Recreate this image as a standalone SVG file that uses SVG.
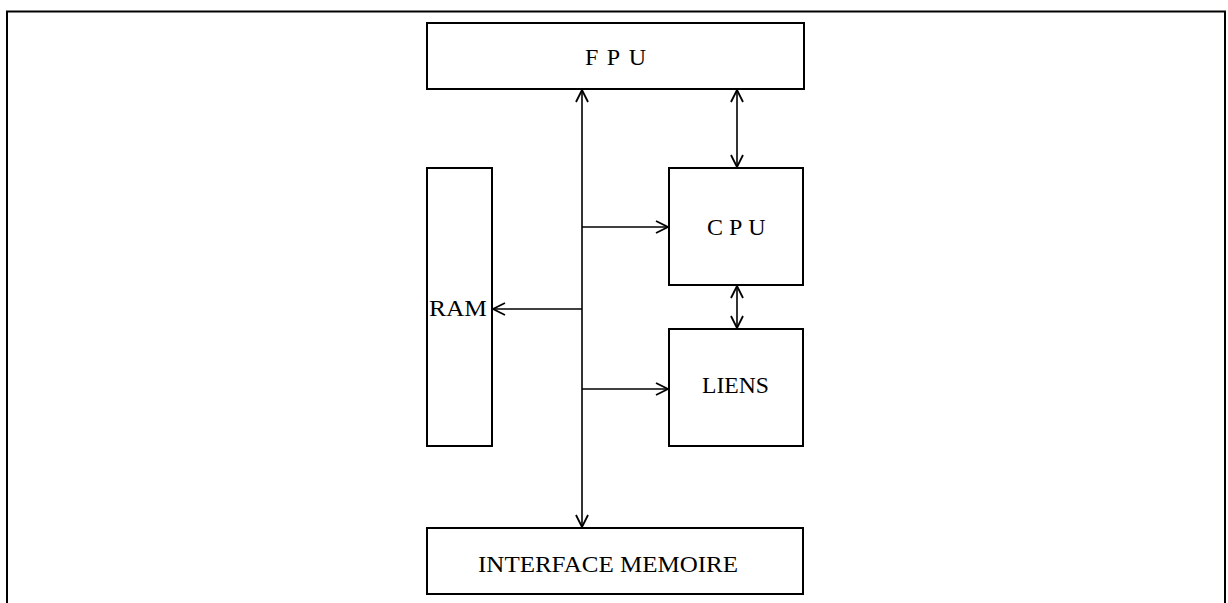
<svg xmlns="http://www.w3.org/2000/svg" width="1228" height="603" viewBox="0 0 1228 603">
<style>
.box{fill:#fff;stroke:#000;stroke-width:2}
.lbl{font-family:"Liberation Serif",serif;font-size:24px;fill:#000}
.ln{stroke:#000;stroke-width:1.6;fill:none}
</style>
<defs>
<marker id="ah" viewBox="0 0 14 14" refX="13" refY="7" markerWidth="14" markerHeight="14" markerUnits="userSpaceOnUse" orient="auto-start-reverse">
<path d="M1,1 L13,7 L1,13" fill="none" stroke="#000" stroke-width="1.8"/>
</marker>
</defs>
<rect width="1228" height="603" fill="#fff"/>
<path d="M7,603 V11.5 H1225 V603" fill="none" stroke="#000" stroke-width="2"/>
<g id="fpu"><rect class="box" x="427" y="23" width="377" height="66"/><text class="lbl" x="585" y="65" font-size="22" letter-spacing="8.5">FPU</text></g>
<g id="cpu"><rect class="box" x="669" y="168" width="134" height="117"/><text class="lbl" x="707" y="235" letter-spacing="6">CPU</text></g>
<g id="liens"><rect class="box" x="669" y="329" width="134" height="117"/><text class="lbl" x="702" y="393" textLength="67" lengthAdjust="spacingAndGlyphs">LIENS</text></g>
<g id="ram"><rect class="box" x="427" y="168" width="65" height="278"/><text class="lbl" x="429" y="316" textLength="58" lengthAdjust="spacingAndGlyphs">RAM</text></g>
<g id="interface"><rect class="box" x="427" y="528" width="376" height="66"/><text class="lbl" x="478" y="572" textLength="260" lengthAdjust="spacingAndGlyphs">INTERFACE MEMOIRE</text></g>
<g id="connectors">
<line class="ln" x1="582" y1="90" x2="582" y2="527" marker-start="url(#ah)" marker-end="url(#ah)"/>
<line class="ln" x1="737" y1="90" x2="737" y2="167" marker-start="url(#ah)" marker-end="url(#ah)"/>
<line class="ln" x1="737" y1="286" x2="737" y2="328" marker-start="url(#ah)" marker-end="url(#ah)"/>
<line class="ln" x1="582" y1="227" x2="668" y2="227" marker-end="url(#ah)"/>
<line class="ln" x1="582" y1="389" x2="668" y2="389" marker-end="url(#ah)"/>
<line class="ln" x1="582" y1="309" x2="493" y2="309" marker-end="url(#ah)"/>
</g>
</svg>
